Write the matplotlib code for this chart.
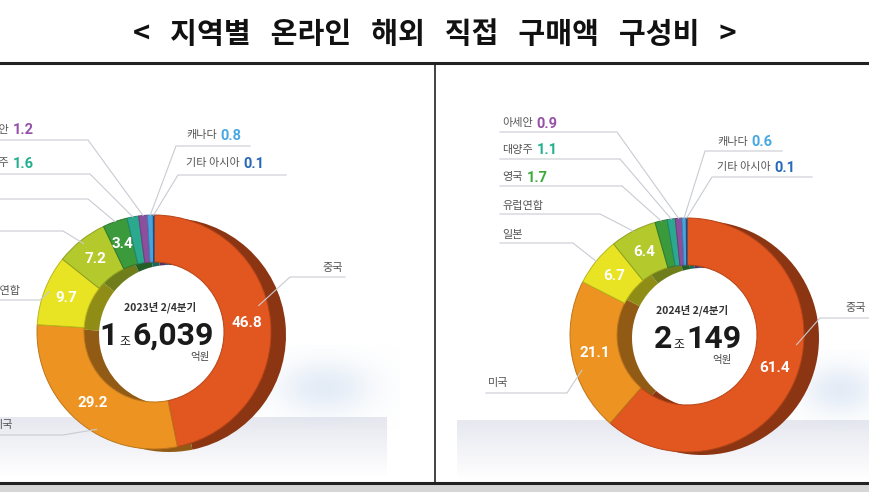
import numpy as np
import matplotlib.pyplot as plt
import matplotlib.colors as mcolors

plt.rcParams['font.family'] = ['Noto Sans CJK KR', 'DejaVu Sans']

# data (share of online overseas direct purchases, %)
regions_2023 = ['중국', '미국', '유럽연합', '일본', '영국', '대양주', '아세안', '캐나다', '기타 아시아']
share_2023 = [46.8, 29.2, 9.7, 7.2, 3.4, 1.6, 1.2, 0.8, 0.1]
regions_2024 = ['중국', '미국', '일본', '유럽연합', '영국', '대양주', '아세안', '캐나다', '기타 아시아']
share_2024 = [61.4, 21.1, 6.7, 6.4, 1.7, 1.1, 0.9, 0.6, 0.1]
period_2023 = '2023년 2/4분기'
period_2024 = '2024년 2/4분기'
total_2023 = ('1', '6,039')
total_2024 = ('2', '149')
title = '<   지역별   온라인   해외   직접   구매액   구성비   >'

face = ['#E2561F', '#EC9322', '#E8E423', '#B4C92B', '#3A9A3C',
        '#2BA98F', '#8B4F9E', '#4BA3DC', '#1E5FA8']
val_col = ['w', 'w', 'w', 'w', '#3DAA3A', '#22B08F', '#9650A8', '#48A8E2', '#2768B8']

R, RI = 117, 70
SHIFT = (15, 3)

fig = plt.figure(figsize=(8.7, 4.92), dpi=100)
ax = fig.add_axes([0, 0, 1, 1])


def dark(c, f=0.62):
    return tuple(np.array(mcolors.to_rgb(c)) * f)


def blob(x0, x1, y0, y1, color, alpha):
    xx, yy = np.meshgrid(np.linspace(-1, 1, 80), np.linspace(-1, 1, 40))
    rgba = np.zeros((40, 80, 4))
    rgba[..., :3] = mcolors.to_rgb(color)
    rgba[..., 3] = np.exp(-(xx**2 + yy**2) * 2.5) * alpha
    ax.imshow(rgba, extent=(x0, x1, y1, y0), zorder=0.5, aspect='auto',
              interpolation='bilinear')


def floor(x0, x1, y0, y1):
    g = np.linspace(0, 1, 50)[:, None]
    top = np.array(mcolors.to_rgb('#E7E8F0'))
    rgb = top * (1 - g[..., None]) + np.ones(3) * g[..., None]
    rgb = np.repeat(rgb, 2, axis=1)
    ax.imshow(rgb, extent=(x0, x1, y1, y0), zorder=0.4, aspect='auto',
              interpolation='bilinear')


def donut(cx, cy, vals):
    ax.pie(vals, colors=[dark(c) for c in face], radius=R,
           center=(cx + SHIFT[0], cy + SHIFT[1]), startangle=-90, counterclock=True,
           wedgeprops=dict(width=R - RI, linewidth=0))
    wedges, _ = ax.pie(vals, colors=face, radius=R, center=(cx, cy),
                       startangle=-90, counterclock=True,
                       wedgeprops=dict(width=R - RI, linewidth=0.7))
    for w, c in zip(wedges, face):
        w.set_edgecolor(dark(c, 0.8))
    return wedges


def at(cx, cy, w, r, frac=0.5):
    a = np.deg2rad(w.theta1 + (w.theta2 - w.theta1) * frac)
    return cx + r * np.cos(a), cy + r * np.sin(a)


def panel(cx, cy, names, vals, layout, period, total, tc):
    wedges = donut(cx, cy, vals)
    rend = fig.canvas.get_renderer()
    for i, (w, v) in enumerate(zip(wedges, vals)):
        if v >= 3:
            x, y = at(cx, cy, w, (R + RI) / 2)
            ax.text(x, y, f'{v:.1f}', color='w', fontsize=11, fontweight='bold',
                    ha='center', va='center', family=['Roboto', 'DejaVu Sans'])
        L = layout[i]
        ex, ey = at(cx, cy, w, L.get('r', R), L.get('frac', 0.5))
        ax.plot([L['far'], L['bend'], ex], [L['ly'], L['ly'], ey],
                color='#C8CBD2', lw=0.8, zorder=3)
        t = ax.text(L['tx'], L['ty'], names[i], fontsize=8, color='#555555',
                    ha=L['ha'], va='center')
        if v < 3:
            if L['ha'] == 'left':
                bb = t.get_window_extent(rend)
                vx = L['tx'] + bb.width + 4
            else:
                vx = L['tx'] + 4
            ax.text(vx, L['ty'] + 0.5, f'{v:.1f}', fontsize=10.5, fontweight='bold',
                    color=val_col[i], ha='left', va='center',
                    family=['Roboto', 'DejaVu Sans'])
    # centre text
    ax.text(tc[0], cy - 25, period, fontsize=7.5, color='#333333',
            ha='center', va='center', fontweight='bold')
    ax.text(tc[1], cy + 13, total[0], fontsize=23, fontweight='bold', color='#1A1A1A',
            ha='right', va='baseline', family=['Roboto', 'DejaVu Sans'])
    ax.text(tc[1] + 7, cy + 13, '조', fontsize=8.5, color='#1A1A1A',
            ha='center', va='baseline')
    ax.text(tc[1] + 14, cy + 13, total[1], fontsize=23, fontweight='bold', color='#1A1A1A',
            ha='left', va='baseline', family=['Roboto', 'DejaVu Sans'])
    ax.text(tc[2], cy + 25, '억원', fontsize=7.5, color='#444444',
            ha='center', va='center')


left_layout = [
    dict(tx=322, ty=268, ha='left', ly=277, far=345, bend=290, frac=0.45, r=108),
    dict(tx=13, ty=425, ha='right', ly=435, far=0, bend=63, frac=0.4, r=113),
    dict(tx=20, ty=291, ha='right', ly=300, far=0, bend=40, r=112),
    dict(tx=-4, ty=222, ha='right', ly=231, far=0, bend=63, r=113),
    dict(tx=-4, ty=190, ha='right', ly=199, far=0, bend=88),
    dict(tx=9, ty=163, ha='right', ly=174, far=0, bend=90),
    dict(tx=9, ty=130, ha='right', ly=140, far=0, bend=88),
    dict(tx=186, ty=135, ha='left', ly=146, far=250, bend=176),
    dict(tx=186, ty=163, ha='left', ly=175, far=286, bend=178),
]
right_layout = [
    dict(tx=845, ty=308, ha='left', ly=318, far=870, bend=820, frac=0.43, r=110),
    dict(tx=488, ty=383, ha='left', ly=393, far=486, bend=567, frac=0.4, r=111),
    dict(tx=502, ty=235, ha='left', ly=243, far=500, bend=573),
    dict(tx=502, ty=206, ha='left', ly=214, far=500, bend=600),
    dict(tx=502, ty=177, ha='left', ly=186, far=500, bend=622),
    dict(tx=502, ty=150, ha='left', ly=159, far=500, bend=620),
    dict(tx=502, ty=123, ha='left', ly=132, far=500, bend=617),
    dict(tx=717, ty=142, ha='left', ly=151, far=782, bend=705),
    dict(tx=717, ty=167, ha='left', ly=177, far=812, bend=712),
]

# background
floor(0, 387, 417, 478)
floor(457, 870, 420, 480)
blob(250, 400, 345, 430, '#C9D9EE', 0.5)
blob(780, 900, 350, 430, '#C9D9EE', 0.5)

panel(154, 332, regions_2023, share_2023, left_layout, period_2023, total_2023,
      (160, 118, 200))
panel(687, 335, regions_2024, share_2024, right_layout, period_2024, total_2024,
      (692, 672, 722))

# frame lines and title
ax.plot([0, 870], [63, 63], color='#222222', lw=2.2)
ax.plot([0, 870], [483, 483], color='#222222', lw=2.2)
ax.plot([435, 435], [63, 483], color='#222222', lw=1.2)
ax.axhspan(485, 492, color='#D6D6D6', lw=0)
ax.text(435, 34, title, fontsize=21, fontweight='bold', ha='center', va='center',
        color='#111111')

ax.set_xlim(0, 870)
ax.set_ylim(492, 0)
ax.set_aspect('auto')
ax.axis('off')

plt.savefig('out.png', dpi=100)
